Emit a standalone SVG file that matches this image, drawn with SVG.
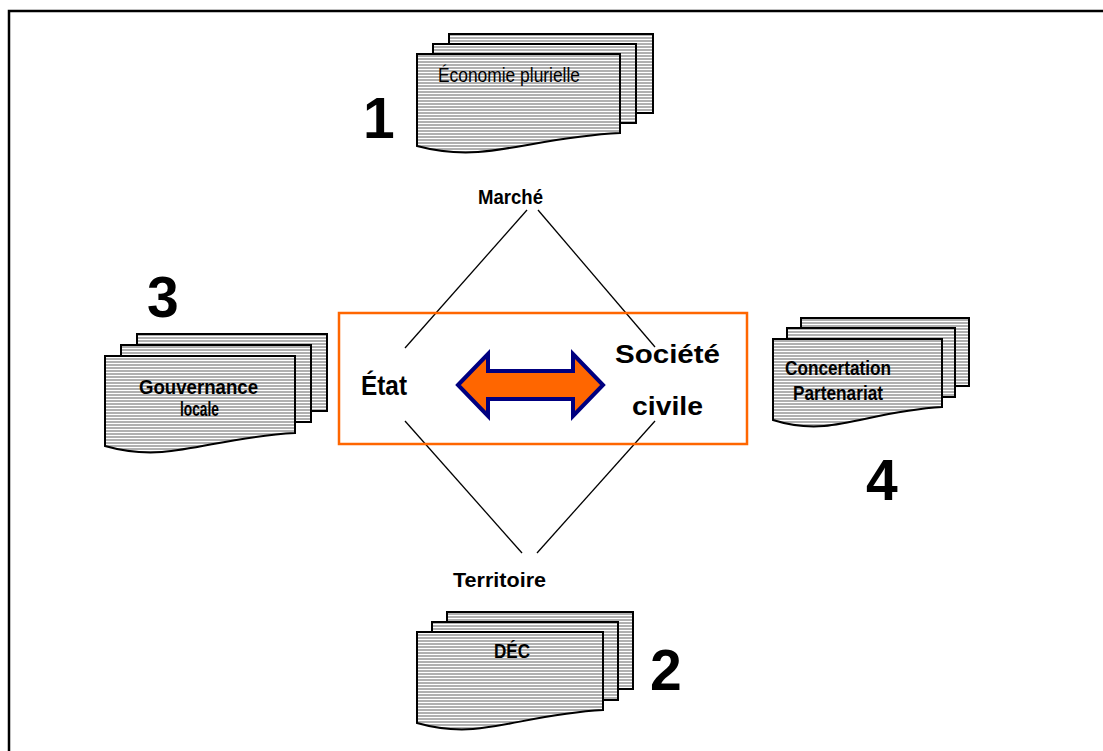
<svg xmlns="http://www.w3.org/2000/svg" width="1103" height="751" viewBox="0 0 1103 751">
<defs>
<pattern id="hatch" x="0" y="0" width="10" height="3" patternUnits="userSpaceOnUse">
<rect width="10" height="3" fill="#B0B0B0"/>
<rect width="10" height="1" fill="#FFFFFF"/>
</pattern>
<style>
.doc{fill:url(#hatch);stroke:#000;stroke-width:2;stroke-linejoin:miter}
.dt{font-family:"Liberation Sans Narrow","Liberation Sans",Arial,sans-serif;font-size:20px;fill:#000}
.b{font-weight:bold}
.num{font-family:"Liberation Sans",Arial,sans-serif;font-weight:bold;font-size:57px;fill:#000}
.lbl{font-family:"Liberation Sans",Arial,sans-serif;font-weight:bold;fill:#000}
.ln{stroke:#000;stroke-width:1.3;fill:none}
</style>
</defs>
<rect x="9" y="11" width="1200" height="800" fill="#FFFFFF" stroke="#000" stroke-width="2.5"/>

<g id="connectors">
<line class="ln" x1="527" y1="210" x2="405" y2="348"/>
<line class="ln" x1="538" y1="210" x2="655" y2="347"/>
<line class="ln" x1="405" y1="421" x2="522" y2="553"/>
<line class="ln" x1="655" y1="421" x2="537" y2="553"/>
</g>

<g id="center">
<rect x="339" y="313" width="408" height="131" fill="none" stroke="#FF6600" stroke-width="2.5"/>
<polygon points="458,385 488,354 488,371 573,371 573,354 603,385 573,416 573,399 488,399 488,416" fill="#FF6600" stroke="#000080" stroke-width="4" stroke-linejoin="miter"/>
</g>

<g id="etat"><text class="lbl" x="361" y="395" font-size="28" textLength="46" lengthAdjust="spacingAndGlyphs">État</text></g>
<g id="societe">
<text class="lbl" x="615" y="363" font-size="26" textLength="105" lengthAdjust="spacingAndGlyphs">Société</text>
<text class="lbl" x="632" y="415" font-size="26" textLength="71" lengthAdjust="spacingAndGlyphs">civile</text>
</g>
<g id="marche"><text class="lbl" x="478" y="204" font-size="20" textLength="65" lengthAdjust="spacingAndGlyphs">Marché</text></g>
<g id="territoire"><text class="lbl" x="453" y="587" font-size="21" textLength="93" lengthAdjust="spacingAndGlyphs">Territoire</text></g>

<g id="doc1">
<rect class="doc" x="449" y="34" width="204" height="79"/>
<rect class="doc" x="433" y="44" width="203" height="79"/>
<path class="doc" d="M417,54 H620 V133 C559,136 518,149 478,152 Q447,154 417,146 Z"/>
<text class="dt" x="438" y="82" textLength="142" lengthAdjust="spacingAndGlyphs">Économie plurielle</text>
<text class="num" x="363" y="138">1</text>
</g>

<g id="doc2">
<rect class="doc" x="447" y="612" width="186" height="77"/>
<rect class="doc" x="432" y="622" width="186" height="78"/>
<path class="doc" d="M417,632 H603 V710 C547,713 510,726 473,729 Q445,731 417,723 Z"/>
<text class="dt b" x="494" y="658" textLength="36" lengthAdjust="spacingAndGlyphs">DÉC</text>
<text class="num" x="650" y="690">2</text>
</g>

<g id="doc3">
<rect class="doc" x="137" y="334" width="190" height="77"/>
<rect class="doc" x="121" y="345" width="190" height="77"/>
<path class="doc" d="M105,356 H295 V433 C238,436 200,449 162,452 Q133,454 105,446 Z"/>
<text class="dt b" x="139" y="394" textLength="119" lengthAdjust="spacingAndGlyphs">Gouvernance</text>
<text class="dt b" x="180" y="416" textLength="39" lengthAdjust="spacingAndGlyphs">locale</text>
<text class="num" x="147" y="317">3</text>
</g>

<g id="doc4">
<rect class="doc" x="801" y="318" width="168" height="68"/>
<rect class="doc" x="787" y="328" width="168" height="69"/>
<path class="doc" d="M773,339 H942 V407 C891,410 857,423 824,426 Q798,428 773,420 Z"/>
<text class="dt b" x="785" y="375" textLength="106" lengthAdjust="spacingAndGlyphs">Concertation</text>
<text class="dt b" x="793" y="400" textLength="90" lengthAdjust="spacingAndGlyphs">Partenariat</text>
<text class="num" x="866" y="500">4</text>
</g>
</svg>
